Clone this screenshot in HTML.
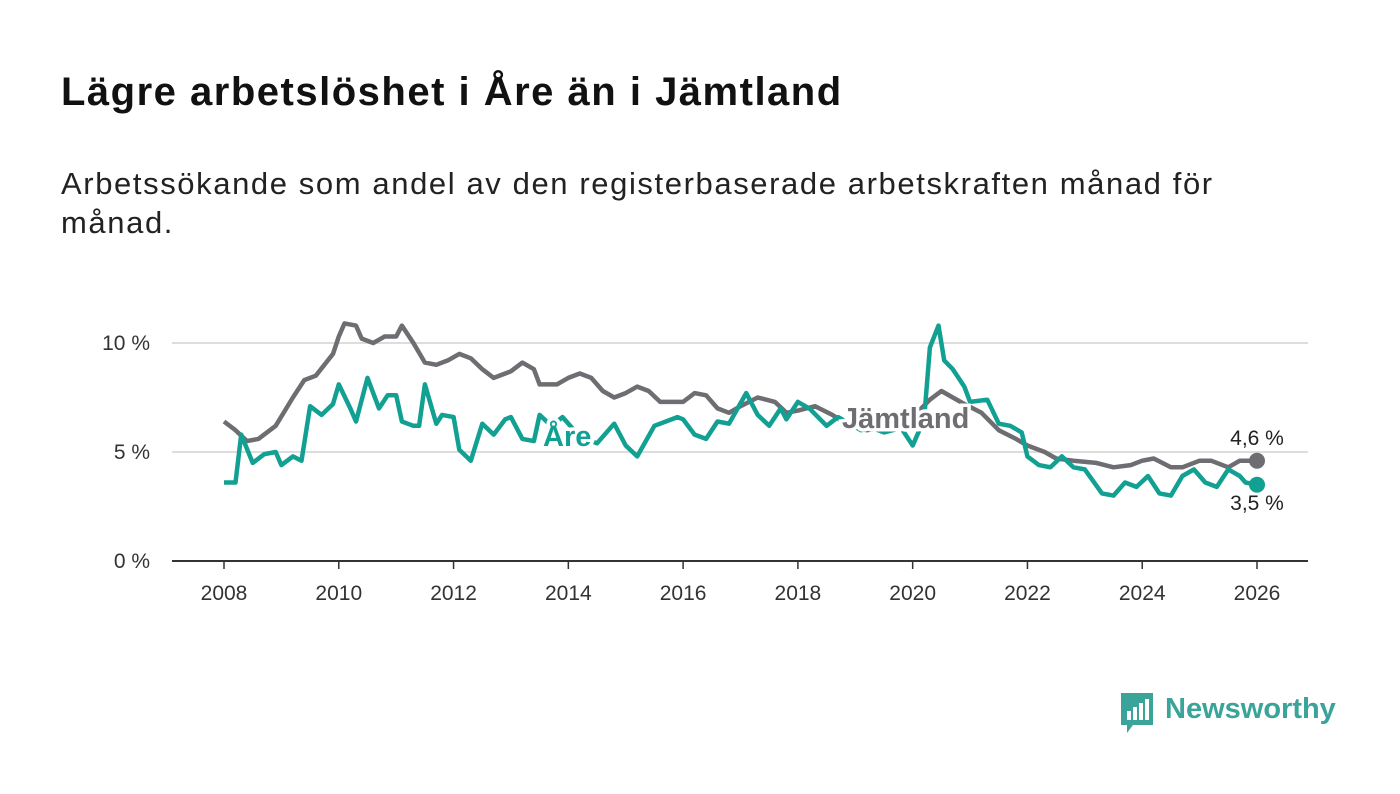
<!DOCTYPE html>
<html><head><meta charset="utf-8"><style>
body{margin:0;width:1400px;height:794px;background:#fff;font-family:"Liberation Sans",sans-serif;overflow:hidden}
h1{position:absolute;left:61px;top:70px;margin:0;font-size:40px;letter-spacing:1.5px;font-weight:bold;color:#111}
p{position:absolute;left:61px;top:164px;margin:0;font-size:31px;letter-spacing:1.6px;line-height:39px;color:#222;width:1300px}
svg{position:absolute;left:0;top:0}
</style></head><body>
<h1>Lägre arbetslöshet i Åre än i Jämtland</h1>
<p>Arbetssökande som andel av den registerbaserade arbetskraften månad för<br>månad.</p>
<svg width="1400" height="794" id="chart"></svg>
<script>
const jamYears=[2008.0,2008.2,2008.4,2008.6,2008.9,2009.2,2009.4,2009.6,2009.9,2010.0,2010.1,2010.3,2010.4,2010.6,2010.8,2011.0,2011.1,2011.3,2011.5,2011.7,2011.9,2012.1,2012.3,2012.5,2012.7,2013.0,2013.2,2013.4,2013.5,2013.8,2014.0,2014.2,2014.4,2014.6,2014.8,2015.0,2015.2,2015.4,2015.6,2016.0,2016.2,2016.4,2016.6,2016.8,2017.0,2017.3,2017.6,2017.8,2018.0,2018.3,2018.6,2018.9,2019.2,2019.5,2020.0,2020.3,2020.5,2020.7,2020.9,2021.2,2021.5,2021.8,2022.0,2022.3,2022.5,2022.8,2023.2,2023.5,2023.8,2024.0,2024.2,2024.5,2024.7,2025.0,2025.2,2025.5,2025.7,2026.0];
const jamValues=[6.4,6.0,5.5,5.6,6.2,7.5,8.3,8.5,9.5,10.3,10.9,10.8,10.2,10.0,10.3,10.3,10.8,10.0,9.1,9.0,9.2,9.5,9.3,8.8,8.4,8.7,9.1,8.8,8.1,8.1,8.4,8.6,8.4,7.8,7.5,7.7,8.0,7.8,7.3,7.3,7.7,7.6,7.0,6.8,7.1,7.5,7.3,6.8,6.9,7.1,6.7,6.2,6.0,6.1,6.6,7.4,7.8,7.5,7.2,6.8,6.0,5.6,5.3,5.0,4.7,4.6,4.5,4.3,4.4,4.6,4.7,4.3,4.3,4.6,4.6,4.3,4.6,4.6];
const areYears=[2008.0,2008.2,2008.3,2008.5,2008.7,2008.9,2009.0,2009.2,2009.35,2009.5,2009.7,2009.9,2010.0,2010.2,2010.3,2010.5,2010.7,2010.85,2011.0,2011.1,2011.3,2011.4,2011.5,2011.7,2011.8,2012.0,2012.1,2012.3,2012.5,2012.7,2012.9,2013.0,2013.2,2013.4,2013.5,2013.7,2013.9,2014.2,2014.5,2014.8,2015.0,2015.2,2015.5,2015.7,2015.9,2016.0,2016.2,2016.4,2016.6,2016.8,2017.1,2017.3,2017.5,2017.7,2017.8,2018.0,2018.2,2018.5,2018.7,2018.9,2019.1,2019.3,2019.5,2019.8,2020.0,2020.2,2020.3,2020.45,2020.55,2020.7,2020.9,2021.0,2021.3,2021.5,2021.7,2021.9,2022.0,2022.2,2022.4,2022.6,2022.8,2023.0,2023.3,2023.5,2023.7,2023.9,2024.1,2024.3,2024.5,2024.7,2024.9,2025.1,2025.3,2025.5,2025.7,2025.8,2026.0];
const areValues=[3.6,3.6,5.8,4.5,4.9,5.0,4.4,4.8,4.6,7.1,6.7,7.2,8.1,7.0,6.4,8.4,7.0,7.6,7.6,6.4,6.2,6.2,8.1,6.3,6.7,6.6,5.1,4.6,6.3,5.8,6.5,6.6,5.6,5.5,6.7,6.2,6.6,5.7,5.4,6.3,5.3,4.8,6.2,6.4,6.6,6.5,5.8,5.6,6.4,6.3,7.7,6.7,6.2,7.0,6.5,7.3,7.0,6.2,6.6,6.3,6.0,6.1,5.9,6.1,5.3,6.5,9.8,10.8,9.2,8.8,8.0,7.3,7.4,6.3,6.2,5.9,4.8,4.4,4.3,4.8,4.3,4.2,3.1,3.0,3.6,3.4,3.9,3.1,3.0,3.9,4.2,3.6,3.4,4.2,3.9,3.6,3.5];
const xTicks=[2008,2010,2012,2014,2016,2018,2020,2022,2024,2026];
const yTicks=[0,5,10];
const yTickLabels=["0 %","5 %","10 %"];
const NS="http://www.w3.org/2000/svg",svg=document.getElementById('chart');
const x=v=>224+(v-2008)*(1257-224)/18, y=v=>561-v*21.8;
function el(t,a,txt){const e=document.createElementNS(NS,t);for(const k in a)e.setAttribute(k,a[k]);if(txt!=null)e.textContent=txt;svg.appendChild(e);return e;}
yTicks.forEach((t,i)=>{
 const g=el('line',{x1:172,x2:1308,y1:y(t),y2:y(t),stroke:t==0?'#333':'#ddd','stroke-width':2});
 
 
 const l=el('text',{x:150,y:y(t)+7,'text-anchor':'end','font-size':21,fill:'#333'},yTickLabels[i]);
 
 
});
xTicks.forEach(t=>{
 const k=el('line',{x1:x(t),x2:x(t),y1:561,y2:569,stroke:'#333','stroke-width':1.5});
 
 
 const l=el('text',{x:x(t),y:600,'text-anchor':'middle','font-size':21,fill:'#333'},String(t));
 
 
});
function line(xs,vs,c,name){
 const p=el('path',{d:xs.map((v,i)=>(i?'L':'M')+x(v).toFixed(1)+','+y(vs[i]).toFixed(1)).join(''),fill:'none',stroke:c,'stroke-width':4.5,'stroke-linejoin':'round'});
 
 
}
line(jamYears,jamValues,'#6e6d72','jamtland-line');
line(areYears,areValues,'#12a092','are-line');
const lj=el('text',{x:842,y:428,'font-size':29,'font-weight':'bold',fill:'#6e6d72',stroke:'#fff','stroke-width':7,'paint-order':'stroke'},'Jämtland');


const la=el('text',{x:543,y:446,'font-size':29,'font-weight':'bold',fill:'#12a092',stroke:'#fff','stroke-width':7,'paint-order':'stroke'},'Åre');


const jl=jamYears.length-1,al=areYears.length-1;
const d1=el('circle',{cx:x(jamYears[jl]),cy:y(jamValues[jl]),r:8,fill:'#6e6d72'});


const d2=el('circle',{cx:x(areYears[al]),cy:y(areValues[al]),r:8,fill:'#12a092'});


const v1=el('text',{x:1257,y:445,'text-anchor':'middle','font-size':21,fill:'#222'},jamValues[jl].toFixed(1).replace('.',',')+' %');


const v2=el('text',{x:1257,y:510,'text-anchor':'middle','font-size':21,fill:'#222'},areValues[al].toFixed(1).replace('.',',')+' %');


</script>
<div style="position:absolute;left:1119px;top:691px;display:flex;align-items:center">
<svg width="36" height="44" style="position:static"><path d="M2 2h32v32H14l-6 8v-8H2z" fill="#3aa39a"/><rect x="8" y="20" width="4" height="9" fill="#fff"/><rect x="14" y="16" width="4" height="13" fill="#fff"/><rect x="20" y="12" width="4" height="17" fill="#fff"/><rect x="26" y="8" width="4" height="21" fill="#fff"/></svg>
<span style="font-size:29px;font-weight:bold;color:#3aa39a;margin-left:10px;margin-top:-8px">Newsworthy</span></div>
</body></html>
